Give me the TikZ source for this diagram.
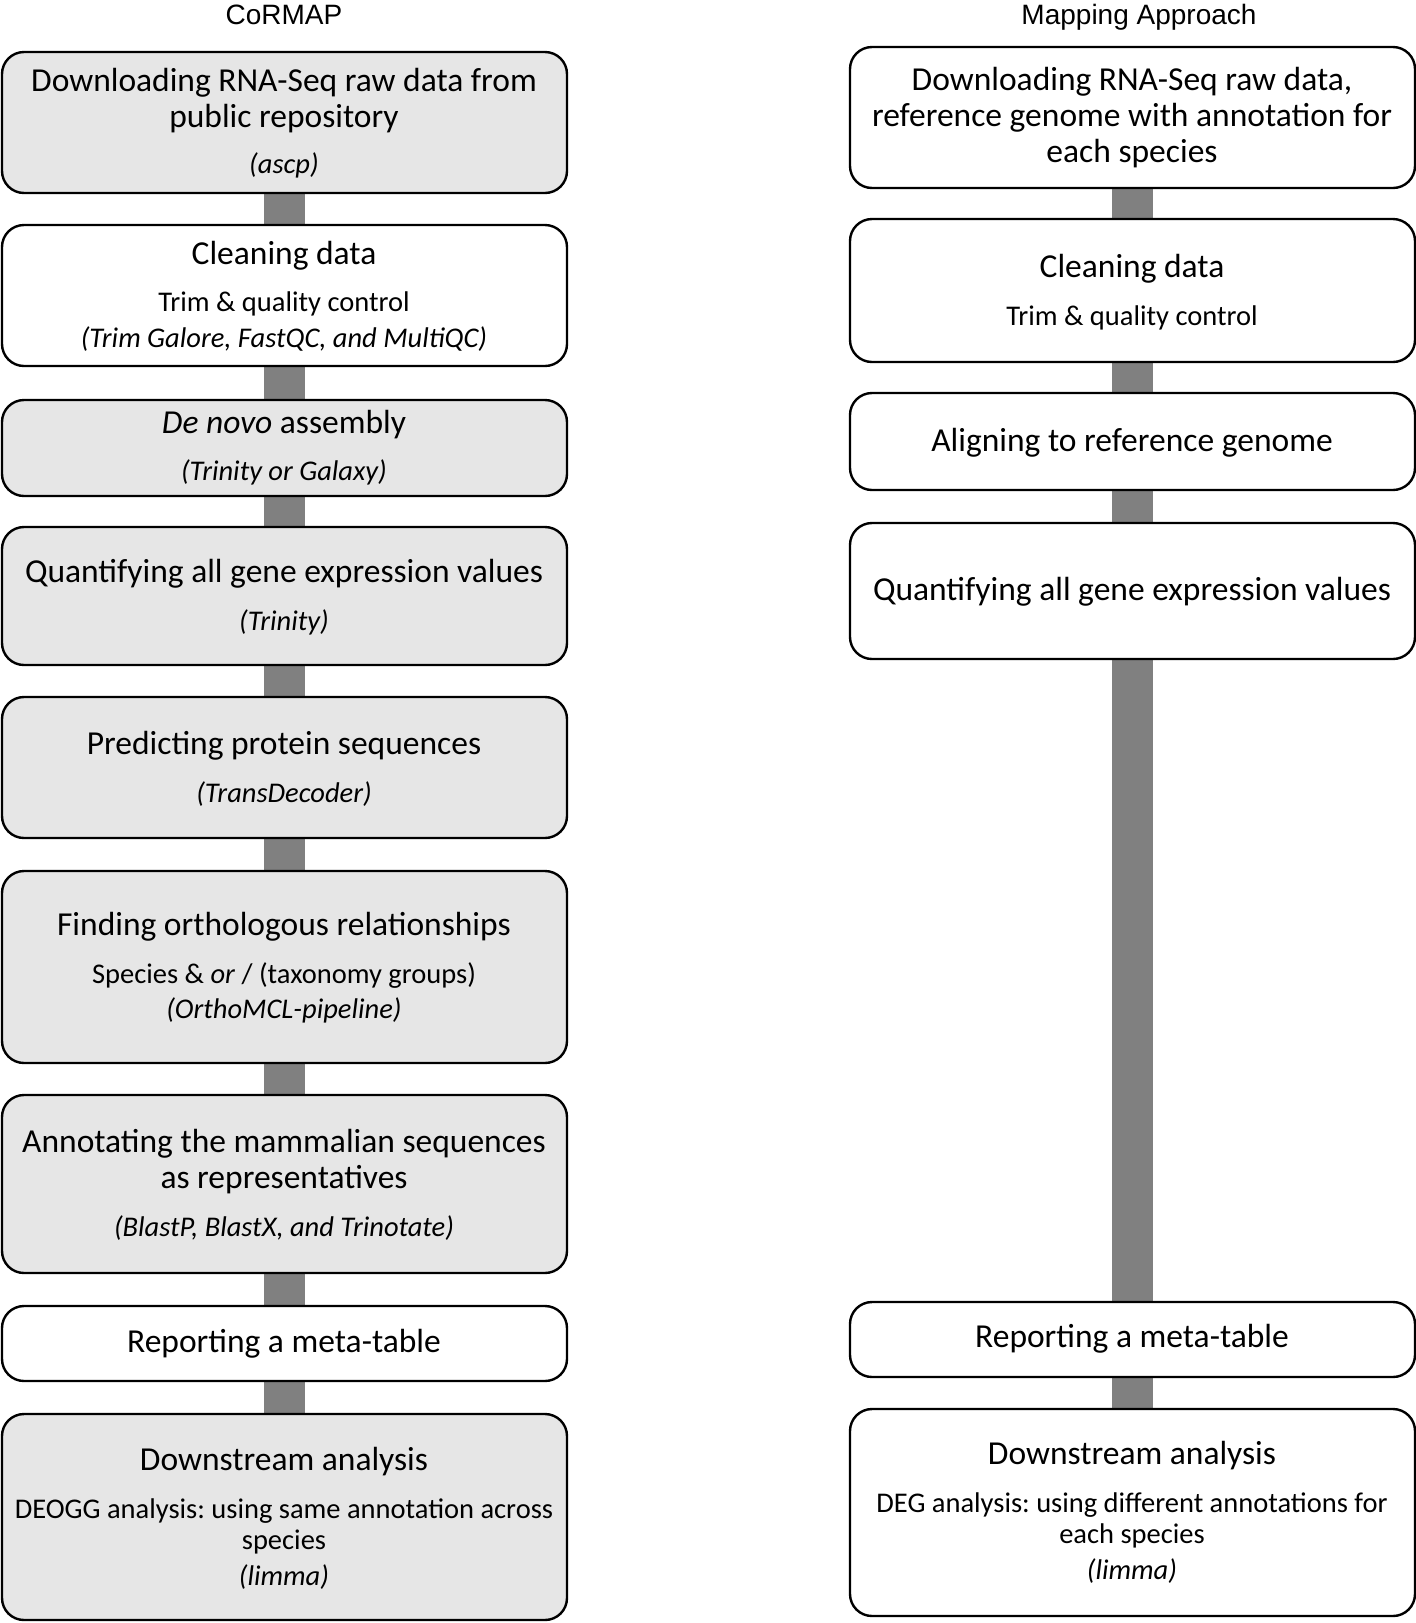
\documentclass[tikz,border=0pt]{standalone}
\usepackage{fontspec}
\setmainfont{Carlito}
\newfontfamily\titlefont{Liberation Sans}
\usetikzlibrary{backgrounds}
\frenchspacing
\definecolor{boxgray}{HTML}{E6E6E6}
\definecolor{conngray}{HTML}{808080}
\tikzset{
  flowbox/.style={draw=black, line width=2.4pt, rounded corners=22pt, inner sep=0pt, minimum width=565pt},
  graybox/.style={flowbox, fill=boxgray},
  whitebox/.style={flowbox, fill=white},
  big/.style={anchor=mid, inner sep=0pt, yshift=-6pt, font=\fontsize{33.5}{37}\selectfont},
  small/.style={anchor=mid, inner sep=0pt, yshift=-6pt, font=\fontsize{28.5}{33}\selectfont},
  smallit/.style={anchor=mid, inner sep=0pt, yshift=-6pt, font=\fontsize{28.5}{33}\selectfont\itshape},
  ttl/.style={anchor=base, inner sep=0pt, font=\fontsize{28}{32}\selectfont\titlefont},
  conn/.style={draw=conngray, line width=41pt}
}
\begin{document}
\begin{tikzpicture}[x=1pt, y=-1pt]
\useasboundingbox (0,0) rectangle (1416,1623);
% titles
\node[ttl] (t1) at (284,24) {CoRMAP};
\node[ttl] (t2) at (1139,24) {Mapping Approach};
% left column
\node[graybox, minimum height=141pt] (L1) at (284.5,122.5) {};
\node[whitebox, minimum height=141pt] (L2) at (284.5,295.5) {};
\node[graybox, minimum height=96pt] (L3) at (284.5,448) {};
\node[graybox, minimum height=138pt] (L4) at (284.5,596) {};
\node[graybox, minimum height=141pt] (L5) at (284.5,767.5) {};
\node[graybox, minimum height=192pt] (L6) at (284.5,967) {};
\node[graybox, minimum height=178pt] (L7) at (284.5,1184) {};
\node[whitebox, minimum height=75pt] (L8) at (284.5,1343.5) {};
\node[graybox, minimum height=206pt] (L9) at (284.5,1517) {};
% right column
\node[whitebox, minimum height=141pt] (R1) at (1132.5,117.5) {};
\node[whitebox, minimum height=143pt] (R2) at (1132.5,290.5) {};
\node[whitebox, minimum height=97pt] (R3) at (1132.5,441.5) {};
\node[whitebox, minimum height=136pt] (R4) at (1132.5,591) {};
\node[whitebox, minimum height=75pt] (R5) at (1132.5,1339.5) {};
\node[whitebox, minimum height=207pt] (R6) at (1132.5,1512.5) {};
% connectors
\begin{pgfonlayer}{background}
\foreach \a/\b in {L1/L2,L2/L3,L3/L4,L4/L5,L5/L6,L6/L7,L7/L8,L8/L9,R1/R2,R2/R3,R3/R4,R4/R5,R5/R6}
  \draw[conn] (\a.south) -- (\b.north);
\end{pgfonlayer}
% left texts
\node[big] (L1a) at (284,83) {Downloading RNA-Seq raw data from};
\node[big] (L1b) at (284,119) {public repository};
\node[smallit] (L1c) at (284,165) {(ascp)};
\node[big] (L2a) at (284,256) {Cleaning data};
\node[small] (L2b) at (284,303) {Trim \& quality control};
\node[smallit] (L2c) at (284,339) {(Trim Galore, FastQC, and MultiQC)};
\node[big] (L3a) at (284,425) {\itshape De novo\upshape{} assembly};
\node[smallit] (L3b) at (284,472) {(Trinity or Galaxy)};
\node[big] (L4a) at (284,574) {Quantifying all gene expression values};
\node[smallit] (L4b) at (284,622) {(Trinity)};
\node[big] (L5a) at (284,746) {Predicting protein sequences};
\node[smallit] (L5b) at (284,794) {(TransDecoder)};
\node[big] (L6a) at (284,927) {Finding orthologous relationships};
\node[small] (L6b) at (284,975) {Species \& \textit{or} / (taxonomy groups)};
\node[smallit] (L6c) at (284,1010) {(OrthoMCL-pipeline)};
\node[big] (L7a) at (284,1144) {Annotating the mammalian sequences};
\node[big] (L7b) at (284,1180) {as representatives};
\node[smallit] (L7c) at (284,1228) {(BlastP, BlastX, and Trinotate)};
\node[big] (L8a) at (284,1344) {Reporting a meta-table};
\node[big] (L9a) at (284,1462) {Downstream analysis};
\node[small] (L9b) at (284,1510) {DEOGG analysis: using same annotation across};
\node[small] (L9c) at (284,1541) {species};
\node[smallit] (L9d) at (284,1577) {(limma)};
% right texts
\node[big] (R1a) at (1132,82) {Downloading RNA-Seq raw data,};
\node[big] (R1b) at (1132,118) {reference genome with annotation for};
\node[big] (R1c) at (1132,154) {each species};
\node[big] (R2a) at (1132,269) {Cleaning data};
\node[small] (R2b) at (1132,317) {Trim \& quality control};
\node[big] (R3a) at (1132,443) {Aligning to reference genome};
\node[big] (R4a) at (1132,592) {Quantifying all gene expression values};
\node[big] (R5a) at (1132,1339) {Reporting a meta-table};
\node[big] (R6a) at (1132,1456) {Downstream analysis};
\node[small] (R6b) at (1132,1504) {DEG analysis: using different annotations for};
\node[small] (R6c) at (1132,1535) {each species};
\node[smallit] (R6d) at (1132,1571) {(limma)};
\end{tikzpicture}
\end{document}
